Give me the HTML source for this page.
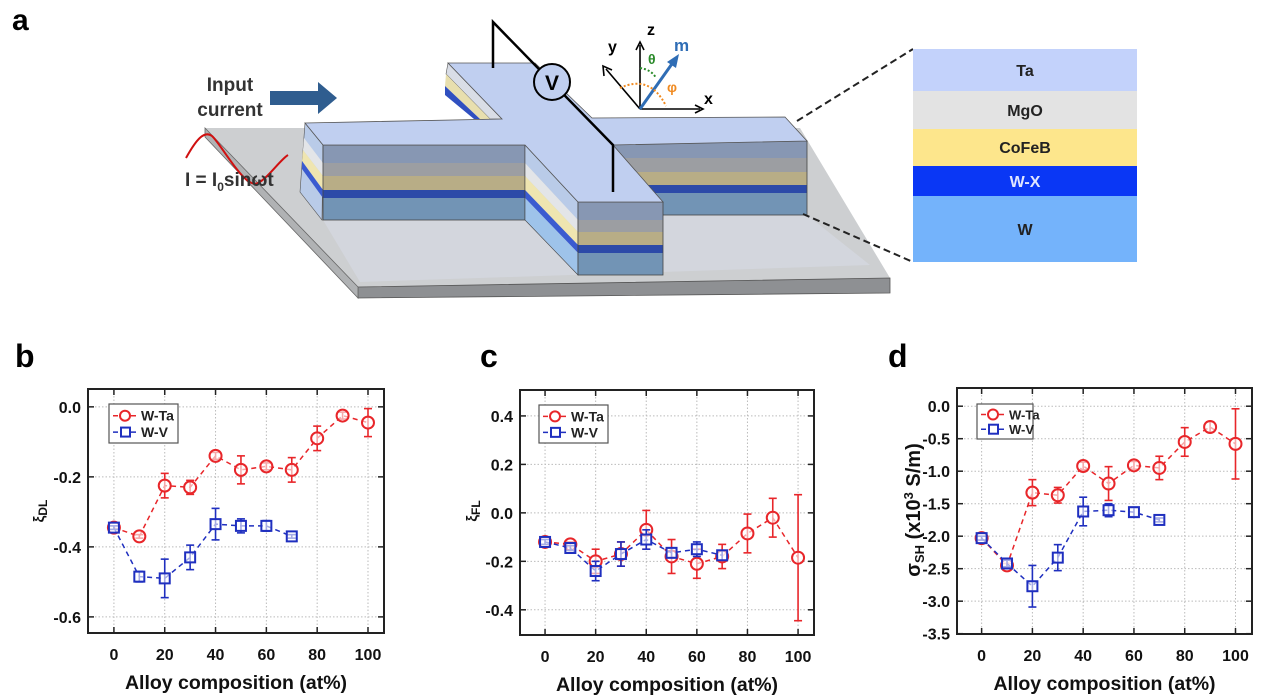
<!DOCTYPE html>
<html><head><meta charset="utf-8"><style>
html,body{margin:0;padding:0;background:#fff;}
svg{display:block;font-family:"Liberation Sans",Arial,sans-serif;}
</style></head><body>
<svg id="fig" width="1277" height="700" viewBox="0 0 1277 700">
<g id="schem">
<text x="12" y="30" font-size="30" font-weight="bold">a</text>
<polygon points="205,128 800,128 890,278 358,287" fill="#cdcfd1"/>
<polygon points="358,287 890,278 890,293 358,298" fill="#8e9093" stroke="#555" stroke-width="0.8"/>
<polygon points="205,128 358,287 358,298 205,137" fill="#b0b2b4" stroke="#666" stroke-width="0.8"/>
<polygon points="323,220 525,220 578,275 663,275 613,215 807,215 870,265 360,282" fill="#d5d9e2" opacity="0.7"/>
<polygon points="448,63 502,119 490,119 446,74" fill="#d9dde6" stroke="#555" stroke-width="0.6"/>
<polygon points="446,74 490,119 480,119 445,86" fill="#e8dfae"/>
<polygon points="445,86 480,119 474,119 445,95" fill="#3050c0"/>
<polygon points="305,123 323,145 322,220 300,192" fill="#b9cbe8" stroke="#555" stroke-width="0.6"/>
<polygon points="304,138 323,163 323,176 303,150" fill="#e3e5e8"/>
<polygon points="303,150 323,176 323,190 302,161" fill="#efe5b0"/>
<polygon points="302,161 323,190 323,198 302,169" fill="#3b5bd0"/>
<rect x="323" y="145" width="202" height="18" fill="#8797b3"/>
<rect x="323" y="163" width="202" height="13" fill="#9c9ea2"/>
<rect x="323" y="176" width="202" height="14" fill="#b8ad86"/>
<rect x="323" y="190" width="202" height="8" fill="#2c4aa8"/>
<rect x="323" y="198" width="202" height="22" fill="#7294b5"/>
<rect x="323" y="145" width="202" height="75" fill="none" stroke="#444" stroke-width="0.8"/>
<rect x="613" y="141" width="194" height="17" fill="#8797b3"/>
<rect x="613" y="158" width="194" height="14" fill="#9c9ea2"/>
<rect x="613" y="172" width="194" height="13" fill="#b8ad86"/>
<rect x="613" y="185" width="194" height="8" fill="#2c4aa8"/>
<rect x="613" y="193" width="194" height="22" fill="#7294b5"/>
<rect x="613" y="141" width="194" height="74" fill="none" stroke="#444" stroke-width="0.8"/>
<polygon points="525,145 578,202 578,220 525,163" fill="#b9cbe8"/>
<polygon points="525,163 578,220 578,232 525,176" fill="#e3e5e8"/>
<polygon points="525,176 578,232 578,245 525,190" fill="#efe5b0"/>
<polygon points="525,190 578,245 578,253 525,198" fill="#3b5bd0"/>
<polygon points="525,198 578,253 578,275 525,220" fill="#9ec3ea"/>
<polygon points="525,145 578,202 578,275 525,220" fill="none" stroke="#444" stroke-width="0.6"/>
<rect x="578" y="202" width="85" height="18" fill="#8797b3"/>
<rect x="578" y="220" width="85" height="12" fill="#9c9ea2"/>
<rect x="578" y="232" width="85" height="13" fill="#b8ad86"/>
<rect x="578" y="245" width="85" height="8" fill="#2c4aa8"/>
<rect x="578" y="253" width="85" height="22" fill="#7294b5"/>
<rect x="578" y="202" width="85" height="73" fill="none" stroke="#444" stroke-width="0.8"/>
<polygon points="305,123 502,119 448,63 535,63 592,118 785,117 807,141 613,145 663,202 578,202 525,145 323,145" fill="#c0cff0" stroke="#555" stroke-width="0.8"/>
<polyline points="493,68 493,22 613,145 613,192" fill="none" stroke="#000" stroke-width="2.5"/>
<circle cx="552" cy="82" r="18" fill="#c0cff0" stroke="#000" stroke-width="2"/>
<text x="552" y="90" font-size="21" font-weight="bold" text-anchor="middle">V</text>
<text x="230" y="91" font-size="19" font-weight="bold" fill="#333" text-anchor="middle">Input</text>
<text x="230" y="116" font-size="19" font-weight="bold" fill="#333" text-anchor="middle">current</text>
<polygon points="270,91 318,91 318,82 337,98 318,114 318,105 270,105" fill="#2f5d8f"/>
<path d="M186,158 C196,140 204,130 212,136 C222,145 245,190 258,183 C268,178 280,160 288,155" fill="none" stroke="#d01010" stroke-width="2"/>
<text x="185" y="186" font-size="19" font-weight="bold" fill="#333">I = I<tspan font-size="12" dy="5">0</tspan><tspan dy="-5">sinωt</tspan></text>
<g stroke="#000" stroke-width="1.6" fill="none">
<line x1="640" y1="109" x2="640" y2="45"/><polyline points="636,50 640,42 644,50"/>
<line x1="640" y1="109" x2="700" y2="109"/><polyline points="695,105 703,109 695,113"/>
<line x1="640" y1="109" x2="606" y2="69"/><polyline points="604,76 603,66 612,70"/>
</g>
<line x1="640" y1="109" x2="674" y2="61" stroke="#2f6db5" stroke-width="3"/>
<polygon points="679,54 676,68 667,62" fill="#2f6db5"/>
<path d="M640,68 Q652,70 656,78" fill="none" stroke="#2a8a2a" stroke-width="2" stroke-dasharray="2,2"/>
<path d="M620,88 Q650,74 666,106" fill="none" stroke="#f08a20" stroke-width="2" stroke-dasharray="2,2"/>
<text x="647" y="35" font-size="16" font-weight="bold">z</text>
<text x="704" y="104" font-size="16" font-weight="bold">x</text>
<text x="608" y="52" font-size="16" font-weight="bold">y</text>
<text x="674" y="51" font-size="17" font-weight="bold" fill="#2f6db5">m</text>
<text x="648" y="64" font-size="14" font-weight="bold" fill="#2a8a2a">θ</text>
<text x="667" y="92" font-size="14" font-weight="bold" fill="#f08a20">φ</text>
<line x1="797" y1="121" x2="913" y2="49" stroke="#222" stroke-width="2" stroke-dasharray="7,4"/>
<line x1="803" y1="214" x2="913" y2="262" stroke="#222" stroke-width="2" stroke-dasharray="7,4"/>
<g font-size="16" font-weight="bold" text-anchor="middle">
<rect x="913" y="49" width="224" height="42" fill="#c3d2fb"/><text x="1025" y="76" fill="#222">Ta</text>
<rect x="913" y="91" width="224" height="38" fill="#e3e3e3"/><text x="1025" y="116" fill="#222">MgO</text>
<rect x="913" y="129" width="224" height="37" fill="#fde68c"/><text x="1025" y="153" fill="#222">CoFeB</text>
<rect x="913" y="166" width="224" height="30" fill="#0a37f5"/><text x="1025" y="187" fill="#e0e6ff">W-X</text>
<rect x="913" y="196" width="224" height="66" fill="#74b3fb"/><text x="1025" y="235" fill="#222">W</text>
</g>
</g>
<g id="charts"></g>
</svg>
<script>
var xCats = [0,10,20,30,40,50,60,70,80,90,100];
var xCatsV = [0,10,20,30,40,50,60,70];
var xTicks = [0,20,40,60,80,100];

var dlTa = [-0.345,-0.37,-0.225,-0.23,-0.14,-0.18,-0.17,-0.18,-0.09,-0.025,-0.045];
var dlTaErr = [0.005,0.005,0.035,0.02,0.01,0.04,0.01,0.035,0.035,0.01,0.04];
var dlV = [-0.345,-0.485,-0.49,-0.43,-0.335,-0.34,-0.34,-0.37];
var dlVErr = [0.005,0.015,0.055,0.035,0.045,0.02,0.015,0.005];
var dlTicks = [0.0,-0.2,-0.4,-0.6];

var flTa = [-0.12,-0.13,-0.2,-0.17,-0.07,-0.18,-0.21,-0.18,-0.085,-0.02,-0.185];
var flTaErr = [0.01,0.01,0.05,0.05,0.08,0.07,0.06,0.05,0.08,0.08,0.26];
var flV = [-0.12,-0.145,-0.24,-0.17,-0.11,-0.165,-0.15,-0.175];
var flVErr = [0.01,0.01,0.04,0.05,0.04,0.02,0.03,0.02];
var flTicks = [0.4,0.2,0.0,-0.2,-0.4];

var shTa = [-2.03,-2.45,-1.33,-1.37,-0.92,-1.19,-0.91,-0.95,-0.55,-0.32,-0.58];
var shTaErr = [0.03,0.03,0.2,0.12,0.06,0.26,0.06,0.18,0.22,0.08,0.54];
var shV = [-2.03,-2.42,-2.77,-2.33,-1.62,-1.6,-1.63,-1.75];
var shVErr = [0.03,0.05,0.32,0.2,0.22,0.1,0.07,0.03];
var shTicks = [0.0,-0.5,-1.0,-1.5,-2.0,-2.5,-3.0,-3.5];

var NS = "http://www.w3.org/2000/svg";
var root = document.getElementById('charts');
function mk(tag, attrs, parent){
  var e = document.createElementNS(NS, tag);
  for (var k in attrs) e.setAttribute(k, attrs[k]);
  (parent||root).appendChild(e); return e;
}

function chart(c){
  var g = mk('g', {});
  
  
  var sx = function(v){ return c.x0 + (v - c.xmin)/(c.xmax - c.xmin)*(c.x1 - c.x0); };
  var sy = function(v){ return c.y1 - (v - c.ymin)/(c.ymax - c.ymin)*(c.y1 - c.y0); };
  var lab = mk('text', {x:c.lx, y:c.ly, 'font-size':32, 'font-weight':'bold'}, g);
  lab.textContent = c.letter;
  
  
  c.yt.forEach(function(v){
    var y = sy(v);
    mk('line', {x1:c.x0, x2:c.x1, y1:y, y2:y, stroke:'#bbb', 'stroke-width':1, 'stroke-dasharray':'1.5,2'}, g);
    mk('line', {x1:c.x0, x2:c.x0+6, y1:y, y2:y, stroke:'#222', 'stroke-width':1.5}, g);
    mk('line', {x1:c.x1, x2:c.x1-6, y1:y, y2:y, stroke:'#222', 'stroke-width':1.5}, g);
    var t = mk('text', {x:c.x0-7, y:y+6, 'font-size':16, 'font-weight':'bold', 'text-anchor':'end', fill:'#111'}, g);
    t.textContent = v.toFixed(1);
    
    
  });
  xTicks.forEach(function(v){
    var x = sx(v);
    mk('line', {x1:x, x2:x, y1:c.y0, y2:c.y1, stroke:'#bbb', 'stroke-width':1, 'stroke-dasharray':'1.5,2'}, g);
    mk('line', {x1:x, x2:x, y1:c.y1, y2:c.y1-6, stroke:'#222', 'stroke-width':1.5}, g);
    mk('line', {x1:x, x2:x, y1:c.y0, y2:c.y0+6, stroke:'#222', 'stroke-width':1.5}, g);
    var t = mk('text', {x:x, y:c.y1+27, 'font-size':16, 'font-weight':'bold', 'text-anchor':'middle', fill:'#111'}, g);
    t.textContent = String(v);
    
    
  });
  var fr = mk('rect', {x:c.x0, y:c.y0, width:c.x1-c.x0, height:c.y1-c.y0, fill:'none', stroke:'#222', 'stroke-width':2}, g);
  
  
  var xt = mk('text', {x:(c.x0+c.x1)/2, y:c.y1+56, 'font-size':19.5, 'font-weight':'bold', 'text-anchor':'middle', fill:'#111'}, g);
  xt.textContent = 'Alloy composition (at%)';
  
  
  var yt = mk('text', {x:0, y:0, 'font-size':c.ytSize, 'font-weight':'bold', 'text-anchor':'middle', fill:'#111', transform:'translate('+c.ytx+','+c.yty+') rotate(-90)'}, g);
  yt.innerHTML = c.ytitle;
  
  
  function series(xs, ys, es, color, shape, nm){
    var sg = mk('g', {}, g);
    
    
    var pts = xs.map(function(x,i){ return sx(x)+','+sy(ys[i]); }).join(' ');
    mk('polyline', {points:pts, fill:'none', stroke:color, 'stroke-width':1.5, 'stroke-dasharray':'5,4'}, sg);
    xs.forEach(function(x,i){
      var px = sx(x), py = sy(ys[i]), ya = sy(ys[i]+es[i]), yb = sy(ys[i]-es[i]);
      mk('line', {x1:px, x2:px, y1:ya, y2:yb, stroke:color, 'stroke-width':1.6}, sg);
      mk('line', {x1:px-4, x2:px+4, y1:ya, y2:ya, stroke:color, 'stroke-width':1.6}, sg);
      mk('line', {x1:px-4, x2:px+4, y1:yb, y2:yb, stroke:color, 'stroke-width':1.6}, sg);
      var m;
      if (shape === 'c') m = mk('circle', {cx:px, cy:py, r:6, fill:'#fff', 'fill-opacity':0.6, stroke:color, 'stroke-width':2}, sg);
      else m = mk('rect', {x:px-5, y:py-5, width:10, height:10, fill:'#fff', 'fill-opacity':0.6, stroke:color, 'stroke-width':2}, sg);
      
      
    });
  }
  series(xCats, c.ta, c.taE, '#e8262a', 'c', 'series-w-ta');
  series(xCatsV, c.v, c.vE, '#1f2fbf', 's', 'series-w-v');
  var lg = mk('g', {}, g);
  
  
  mk('rect', {x:c.lgx, y:c.lgy, width:c.lgw, height:c.lgh, fill:'#fff', stroke:'#555', 'stroke-width':1.2}, lg);
  var r1 = c.lgy + c.lgh*0.3, r2 = c.lgy + c.lgh*0.72;
  mk('line', {x1:c.lgx+4, x2:c.lgx+28, y1:r1, y2:r1, stroke:'#e8262a', 'stroke-width':1.5, 'stroke-dasharray':'5,4'}, lg);
  mk('circle', {cx:c.lgx+16, cy:r1, r:5, fill:'#fff', stroke:'#e8262a', 'stroke-width':2}, lg);
  mk('line', {x1:c.lgx+4, x2:c.lgx+28, y1:r2, y2:r2, stroke:'#1f2fbf', 'stroke-width':1.5, 'stroke-dasharray':'5,4'}, lg);
  mk('rect', {x:c.lgx+12, y:r2-4.5, width:9, height:9, fill:'#fff', stroke:'#1f2fbf', 'stroke-width':2}, lg);
  var l1 = mk('text', {x:c.lgx+32, y:r1+5, 'font-size':c.lfs, 'font-weight':'bold', fill:'#222'}, lg);
  l1.textContent = 'W-Ta';
  
  
  var l2 = mk('text', {x:c.lgx+32, y:r2+5, 'font-size':c.lfs, 'font-weight':'bold', fill:'#222'}, lg);
  l2.textContent = 'W-V';
  
  
}

chart({name:'chart-xi-dl', letter:'b', lx:15, ly:367, x0:88, x1:384, y0:389, y1:633,
  xmin:-10.2, xmax:106.3, ymin:-0.646, ymax:0.051, yt:dlTicks, ta:dlTa, taE:dlTaErr, v:dlV, vE:dlVErr,
  ytitle:'ξ<tspan font-size="12" dy="3">DL</tspan>', ytSize:15, ytx:44, yty:511,
  lgx:109, lgy:404, lgw:69, lgh:39, lfs:14});
chart({name:'chart-xi-fl', letter:'c', lx:480, ly:367, x0:520, x1:814, y0:390, y1:635,
  xmin:-9.9, xmax:106.3, ymin:-0.504, ymax:0.507, yt:flTicks, ta:flTa, taE:flTaErr, v:flV, vE:flVErr,
  ytitle:'ξ<tspan font-size="12" dy="3">FL</tspan>', ytSize:15, ytx:477, yty:511,
  lgx:539, lgy:405, lgw:69, lgh:38, lfs:14});
chart({name:'chart-sigma-sh', letter:'d', lx:888, ly:367, x0:957, x1:1252, y0:388, y1:634,
  xmin:-9.7, xmax:106.5, ymin:-3.505, ymax:0.28, yt:shTicks, ta:shTa, taE:shTaErr, v:shV, vE:shVErr,
  ytitle:'σ<tspan font-size="13" dy="4">SH</tspan><tspan dy="-4"> (x10</tspan><tspan font-size="13" dy="-7">3</tspan><tspan dy="7"> S/m)</tspan>', ytSize:20, ytx:920, yty:510,
  lgx:977, lgy:404, lgw:56, lgh:35, lfs:13});
</script>
</body></html>
